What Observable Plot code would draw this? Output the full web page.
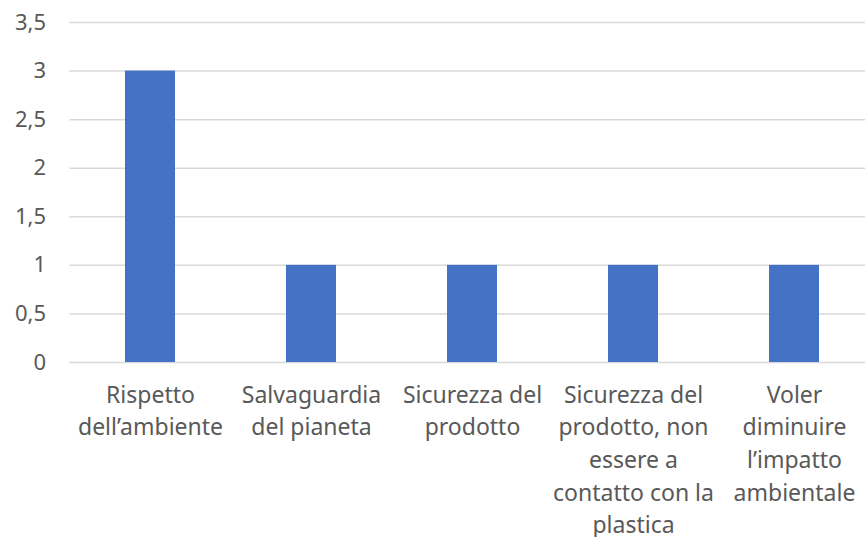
<!DOCTYPE html>
<html>
<head>
<meta charset="utf-8">
<script src="https://cdn.jsdelivr.net/npm/d3@7"></script>
<script src="https://cdn.jsdelivr.net/npm/@observablehq/plot@0.6"></script>
<style>
  html, body { margin: 0; padding: 0; background: #fff; overflow: hidden; }
  #chart svg { display: block; }
</style>
</head>
<body>
<div id="chart"></div>
<script>
const categories = [
  "Rispetto\ndell\u2019ambiente",
  "Salvaguardia\ndel pianeta",
  "Sicurezza del\nprodotto",
  "Sicurezza del\nprodotto, non\nessere a\ncontatto con la\nplastica",
  "Voler\ndiminuire\nl\u2019impatto\nambientale"
];
const values = [3, 1, 1, 1, 1];
const yTicks = [0, 0.5, 1, 1.5, 2, 2.5, 3, 3.5];

const data = categories.map((c, i) => ({cat: c, value: values[i]}));
const fmt = d => String(d).replace(".", ",");

const chart = Plot.plot({
  width: 865,
  height: 537,
  marginLeft: 69.5,
  marginRight: -9.5,
  marginTop: 22,
  marginBottom: 175,
  style: {fontFamily: "'Noto Sans', sans-serif", fontSize: "23px", color: "#595959", background: "#fff"},
  x: {domain: categories, paddingInner: 0.69, paddingOuter: 0.345, label: null},
  y: {domain: [0, 3.5], label: null},
  marks: [
    Plot.gridY(yTicks, {stroke: "#d9d9d9", strokeOpacity: 1, strokeWidth: 1.5}),
    Plot.barY(data, {x: "cat", y: "value", fill: "#4472C4"}),
    Plot.axisY(yTicks, {tickSize: 0, tickPadding: 24, tickFormat: fmt, fill: "#595959", fontSize: 22, label: null}),
    Plot.axisX({tickSize: 0, tickPadding: 17, fill: "#595959", fontSize: 23, lineHeight: 1.42, label: null, textOverflow: null})
  ]
});
document.getElementById("chart").appendChild(chart);
</script>
</body>
</html>
